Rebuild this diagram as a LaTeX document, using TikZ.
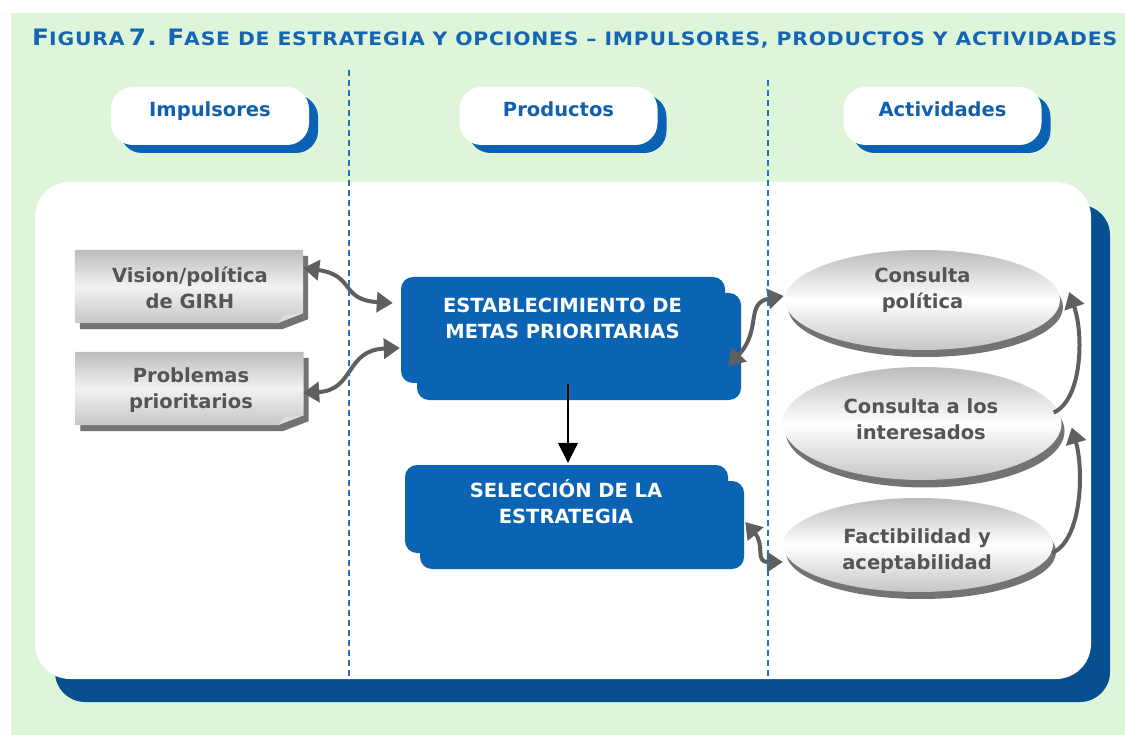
\documentclass[tikz,border=0pt]{standalone}
\usepackage{fontspec}
\setmainfont{DejaVu Sans}
\newfontfamily\titlefont[LetterSpace=4]{DejaVu Sans Bold}
\usetikzlibrary{arrows.meta,shapes.geometric,calc}
\definecolor{bggreen}{RGB}{223,245,218}
\definecolor{titleblue}{RGB}{21,101,181}
\definecolor{hdrblue}{RGB}{16,96,176}
\definecolor{pillshadow}{RGB}{10,98,180}
\definecolor{panelshadow}{RGB}{8,79,143}
\definecolor{boxblue}{RGB}{11,99,180}
\definecolor{dashblue}{RGB}{34,114,194}
\definecolor{txtgray}{RGB}{85,85,85}
\definecolor{arrgray}{RGB}{95,95,95}
\definecolor{shgray}{RGB}{115,115,115}
\definecolor{gtop}{RGB}{188,188,188}
\definecolor{gbot}{RGB}{198,198,198}
\definecolor{gmid}{RGB}{242,242,242}
\definecolor{foldgray}{RGB}{222,222,222}
\newcommand\TBig[1]{{\fontsize{22}{22}\selectfont #1}}
\newcommand\TSm[1]{{\fontsize{18}{22}\selectfont #1}}
\begin{document}
\begin{tikzpicture}[x=1pt,y=-1pt,
  pill/.style={rectangle,rounded corners=22pt,minimum width=198pt,minimum height=58pt,inner sep=0pt},
  hdrtext/.style={font=\fontsize{19.5}{24}\selectfont\bfseries,text=hdrblue,anchor=base},
  bluebox/.style={rectangle,rounded corners=12pt,fill=boxblue,inner sep=0pt},
  bluetext/.style={font=\fontsize{19.5}{26}\selectfont\bfseries,text=white,align=center},
  graytext/.style={font=\fontsize{19.5}{26}\selectfont\bfseries,text=txtgray,align=center},
  docbox/.style={rectangle,minimum width=228pt,minimum height=73pt,inner sep=0pt},
  ellshade/.style={ellipse,inner sep=0pt,top color=gtop,bottom color=gbot,middle color=white},
  ellshadow/.style={ellipse,inner sep=0pt,fill=shgray},
  dblarrow/.style={draw=arrgray,line width=4pt,{Triangle[length=16pt,width=20pt]}-{Triangle[length=16pt,width=20pt]}},
  sglarrow/.style={draw=arrgray,line width=4pt,-{Triangle[length=16pt,width=20pt]}},
  sepline/.style={draw=dashblue,line width=1.5pt,dash pattern=on 6pt off 4pt}]
\useasboundingbox (0,0) rectangle (1125,735);
\fill[white] (0,0) rectangle (1125,735);
\fill[bggreen] (11,13) rectangle (1125,735);
% title
\node[anchor=base west,inner sep=0pt,text=titleblue] (title) at (32,46)
  {\resizebox{1085pt}{16.5pt}{\titlefont\TBig{F}\TSm{IGURA} \TBig{7.}\TSm{ }\TBig{F}\TSm{ASE DE ESTRATEGIA Y OPCIONES – IMPULSORES, PRODUCTOS Y ACTIVIDADES}}};
% header pills
\node[pill,fill=pillshadow] (imps) at (219,124) {};
\node[pill,fill=white] (imp) at (210,116) {};
\node[hdrtext] (impt) at (210,117) {Impulsores};
\node[pill,fill=pillshadow] (pros) at (567.5,124) {};
\node[pill,fill=white] (pro) at (558.5,116) {};
\node[hdrtext] (prot) at (558.5,117) {Productos};
\node[pill,fill=pillshadow] (acts) at (951.5,124) {};
\node[pill,fill=white] (act) at (942.5,116) {};
\node[hdrtext] (actt) at (942.5,117) {Actividades};
% panel
\node[rectangle,rounded corners=30pt,fill=panelshadow,minimum width=1055pt,minimum height=497pt,inner sep=0pt] (pnls) at (582.5,453.5) {};
\node[rectangle,rounded corners=35pt,fill=white,minimum width=1056pt,minimum height=497pt,inner sep=0pt] (pnl) at (563,430.5) {};
% gray document boxes
\node[docbox] (vis) at (189,286.5) {};
\node[docbox] (prob) at (189.5,388.5) {};
\foreach \b in {vis,prob}{
  \fill[shgray] ($(\b.north west)+(5,6)$) -- ($(\b.north east)+(5,6)$) -- ($(\b.south east)+(5,-4)$) -- ($(\b.south east)+(-21,6)$) -- ($(\b.south west)+(5,6)$) -- cycle;
  \path[top color=gtop,bottom color=gbot,middle color=gmid] (\b.north west) -- (\b.north east) -- ($(\b.south east)+(0,-10)$) -- ($(\b.south east)+(-26,0)$) -- (\b.south west) -- cycle;
  \fill[foldgray] ($(\b.south east)+(0,-10)$) -- ($(\b.south east)+(-26,0)$) -- ($(\b.south east)+(-19,-8)$) -- cycle;
}
\node[graytext] (vist) at (190,288) {Vision/política\\de GIRH};
\node[graytext] (probt) at (191,390) {Problemas\\prioritarios};
% blue boxes
\node[bluebox,minimum width=324pt,minimum height=107pt] (estb) at (579,346.5) {};
\node[bluebox,minimum width=324pt,minimum height=106pt] (est) at (563,330) {};
\node[bluetext] (estt) at (562.5,318) {ESTABLECIMIENTO DE\\METAS PRIORITARIAS};
\node[bluebox,minimum width=324pt,minimum height=88pt] (selb) at (582,525) {};
\node[bluebox,minimum width=323pt,minimum height=88pt] (sel) at (566.5,509) {};
\node[bluetext] (selt) at (566,502) {SELECCIÓN DE LA\\ESTRATEGIA};
% ellipses
\node[ellshadow,minimum width=275pt,minimum height=100pt] (c1s) at (925.5,307) {};
\node[ellshade,minimum width=275pt,minimum height=100pt] (c1) at (922.5,300) {};
\node[graytext] (c1t) at (922.5,290) {Consulta\\política};
\node[ellshadow,minimum width=279pt,minimum height=113pt] (c2s) at (925,431) {};
\node[ellshade,minimum width=279pt,minimum height=113pt] (c2) at (922,423.5) {};
\node[graytext] (c2t) at (921,419) {Consulta a los\\interesados};
\node[ellshadow,minimum width=270pt,minimum height=94pt] (c3s) at (921,552) {};
\node[ellshade,minimum width=270pt,minimum height=94pt] (c3) at (918,545) {};
\node[graytext] (c3t) at (917,551) {Factibilidad y\\aceptabilidad};
% connectors
\draw[line width=1.5pt,-{Triangle[length=20pt,width=20pt]}] ($(est.south)+(5,1)$) -- ($(sel.north)+(1.5,-2)$);
\draw[dblarrow] ($(vis.east)+(0,-18.5)$) .. controls (355,275) and (340,300) .. ($(est.west)+(-8,-27)$);
\draw[dblarrow] ($(prob.east)+(-0.5,4.5)$) .. controls (355,390) and (345,350) .. ($(est.west)+(-1,18)$);
\draw[dblarrow] ($(est.east)+(3,36)$) .. controls (762,330) and (745,303) .. ($(c1.west)+(-1,-4)$);
\draw[dblarrow] ($(selb.east)+(1,-3)$) .. controls (765,545) and (755,562) .. ($(c3.west)+(0,17)$);
\draw[sglarrow] ($(c2.east)+(-8,-11)$) .. controls (1082,400) and (1084,335) .. ($(c1.east)+(9,-8)$);
\draw[sglarrow] ($(c3.east)+(-1,8)$) .. controls (1082,540) and (1084,470) .. ($(c2.east)+(10,4)$);
% dashed separators
\coordinate (d1t) at (349,70);
\coordinate (d1b) at (349,678);
\coordinate (d2t) at (768,80);
\coordinate (d2b) at (768,678);
\draw[sepline] (d1t) -- (d1b);
\draw[sepline] (d2t) -- (d2b);
\end{tikzpicture}
\end{document}
